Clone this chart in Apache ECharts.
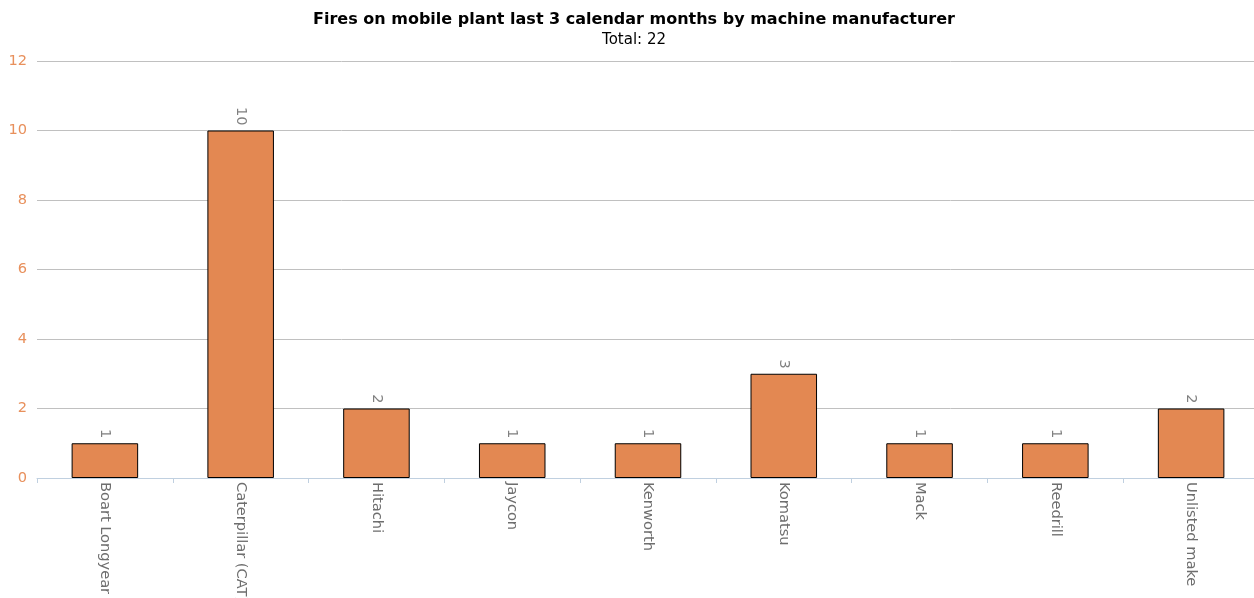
<!DOCTYPE html>
<html><head><meta charset="utf-8">
<script src="https://cdn.jsdelivr.net/npm/echarts@6/dist/echarts.min.js"></script>
<style>html,body{margin:0;padding:0;background:#fff}#c{width:1254px;height:598px}</style>
</head><body><div id="c"></div>
<script>
const categories = ["Boart Longyear","Caterpillar (CAT)","Hitachi","Jaycon","Kenworth","Komatsu","Mack","Reedrill","Unlisted make"];
const values = [1,10,2,1,1,3,1,1,2];
const yTicks = {min:0, max:12, interval:2};
const titleText = "Fires on mobile plant last 3 calendar months by machine manufacturer";
const subtitleText = "Total: 22";

const FONT = "'DejaVu Sans', sans-serif";
const chart = echarts.init(document.getElementById('c'), null, {renderer:'canvas'});
chart.setOption({
  animation:false,
  backgroundColor:'#fff',
  title:{
    text:titleText, subtext:subtitleText, left:629, textAlign:'center', top:7, itemGap:5,
    textStyle:{fontFamily:FONT, fontSize:16, fontWeight:'bold', color:'#000'},
    subtextStyle:{fontFamily:FONT, fontSize:15, color:'#000'}
  },
  grid:{left:37, width:1222, top:61, bottom:120, containLabel:false, outerBoundsMode:'none'},
  xAxis:{
    type:'category', data:categories,
    axisLine:{show:true, lineStyle:{color:'#c0d0e0', width:1}},
    axisTick:{show:true, length:5, lineStyle:{color:'#c0d0e0'}},
    axisLabel:{rotate:-90, interval:0, margin:4, color:'#6e6e6e', fontFamily:FONT, fontSize:14.6}
  },
  yAxis:{
    type:'value', min:yTicks.min, max:yTicks.max, interval:yTicks.interval,
    axisLine:{show:false}, axisTick:{show:false},
    splitLine:{lineStyle:{color:'#c0c0c0', width:1}},
    axisLabel:{color:'#e8905c', fontFamily:FONT, fontSize:14.6, margin:10}
  },
  series:[{
    type:'bar', data:values, barWidth:'49%',
    itemStyle:{color:'#e38852', borderColor:'#000', borderWidth:1},
    label:{show:true, position:'top', rotate:-90, align:'right', verticalAlign:'middle', distance:5,
      color:'#808080', fontFamily:FONT, fontSize:14.6}
  }]
});
</script></body></html>
